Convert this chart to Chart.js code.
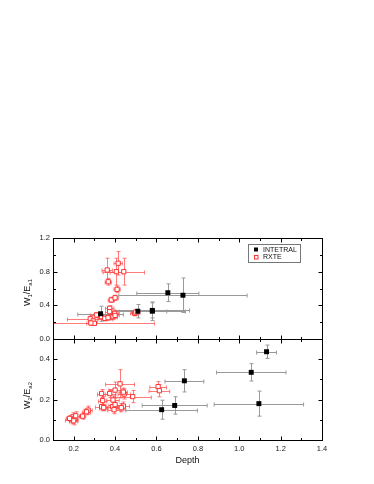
<!DOCTYPE html>
<html>
<head>
<meta charset="utf-8">
<script src="https://cdn.jsdelivr.net/npm/chart.js@4"></script>
<style>
html, body { margin: 0; padding: 0; background: #fff; }
#wrap { width: 374px; height: 484px; position: relative; }
</style>
</head>
<body>
<div id="wrap"><canvas id="chart" width="374" height="484"></canvas></div>
<script>
// axis ticks
const depthTicks = [0.2, 0.4, 0.6, 0.8, 1.0, 1.2, 1.4];
const depthMinor = [0.1, 0.3, 0.5, 0.7, 0.9, 1.1, 1.3];
const topTicks = [0.0, 0.4, 0.8, 1.2];
const topMinor = [0.2, 0.6, 1.0];
const botTicks = [0.0, 0.2, 0.4];
const botMinor = [0.1, 0.3, 0.5];

// INTEGRAL, upper panel (W1/Ea1)
const intTopDepth = [0.33, 0.51, 0.58, 0.58, 0.655, 0.728];
const intTopW     = [0.30, 0.33, 0.33, 0.34, 0.55, 0.52];
const intTopDErr  = [0.11, 0.14, 0.16, 0.18, 0.15, 0.31];
const intTopWErr  = [0.09, 0.08, 0.11, 0.09, 0.105, 0.205];

// RXTE, upper panel
const rxTopDepth = [0.415, 0.362, 0.406, 0.442, 0.367, 0.410, 0.382, 0.400, 0.374, 0.374, 0.334, 0.28,
                    0.294, 0.300, 0.350, 0.366, 0.390, 0.398, 0.495, 0.500, 0.310, 0.400, 0.283];
const rxTopW     = [0.90, 0.82, 0.80, 0.80, 0.68, 0.59, 0.465, 0.49, 0.365, 0.325, 0.265, 0.24,
                    0.214, 0.186, 0.245, 0.253, 0.265, 0.305, 0.305, 0.32, 0.285, 0.28, 0.19];
const rxTopDErr  = [0.02, 0.025, 0.03, 0.10, 0.015, 0.015, 0.015, 0.015, 0.02, 0.02, 0.02, 0.11,
                    0.02, 0.29, 0.03, 0.02, 0.02, 0.02, 0.02, 0.02, 0.03, 0.02, 0.02];
const rxTopWErr  = [0.14, 0.14, 0.16, 0.16, 0.04, 0.04, 0.03, 0.03, 0.03, 0.03, 0.03, 0.03,
                    0.03, 0.02, 0.03, 0.03, 0.03, 0.03, 0.03, 0.03, 0.03, 0.03, 0.03];

// INTEGRAL, lower panel (W2/Ea2)
const intBotDepth = [1.132, 1.058, 1.095, 0.735, 0.688, 0.625];
const intBotW     = [0.437, 0.335, 0.180, 0.293, 0.171, 0.150];
const intBotDErr  = [0.048, 0.168, 0.216, 0.094, 0.157, 0.173];
const intBotWErr  = [0.033, 0.043, 0.062, 0.055, 0.043, 0.047];

// RXTE, lower panel
const rxBotDepth = [0.424, 0.608, 0.614, 0.335, 0.374, 0.400, 0.444, 0.485, 0.440, 0.340, 0.390, 0.335, 0.345,
                    0.388, 0.400, 0.440, 0.430, 0.270, 0.262, 0.243, 0.197, 0.205, 0.190, 0.200, 0.180, 0.210, 0.395];
const rxBotW     = [0.278, 0.264, 0.244, 0.230, 0.230, 0.247, 0.228, 0.215, 0.237, 0.195, 0.198, 0.165, 0.160,
                    0.165, 0.175, 0.168, 0.160, 0.148, 0.140, 0.118, 0.115, 0.107, 0.100, 0.095, 0.107, 0.120, 0.150];
const rxBotDErr  = [0.07, 0.04, 0.05, 0.02, 0.03, 0.03, 0.03, 0.09, 0.02, 0.02, 0.03, 0.03, 0.02,
                    0.03, 0.03, 0.03, 0.02, 0.02, 0.02, 0.015, 0.015, 0.015, 0.03, 0.02, 0.015, 0.02, 0.03];
const rxBotWErr  = [0.07, 0.025, 0.03, 0.02, 0.02, 0.04, 0.025, 0.03, 0.02, 0.02, 0.02, 0.02, 0.015,
                    0.02, 0.02, 0.02, 0.02, 0.02, 0.015, 0.015, 0.02, 0.015, 0.02, 0.02, 0.015, 0.02, 0.02];

const FONT = '"Liberation Sans", Arial, sans-serif';
const RED = 'rgb(255, 50, 50)';
const RED_ERR = 'rgba(255, 80, 80, 0.75)';
const GRAY_ERR = '#999';

function points(xs, ys) {
    return xs.map((x, i) => ({ x: x, y: ys[i] }));
}

function intDataset(label, axis, xs, ys, xe, ye) {
    return {
        label: label, yAxisID: axis, data: points(xs, ys),
        xErr: xe, yErr: ye, errColor: GRAY_ERR,
        pointStyle: 'rect', pointRadius: 3.5, pointBorderWidth: 0,
        backgroundColor: '#000', borderColor: '#000'
    };
}

function rxDataset(label, axis, xs, ys, xe, ye) {
    return {
        label: label, yAxisID: axis, data: points(xs, ys),
        xErr: xe, yErr: ye, errColor: RED_ERR,
        pointStyle: 'rect', pointRadius: 3, pointBorderWidth: 1,
        backgroundColor: '#fff', borderColor: RED
    };
}

function setTicks(values) {
    return scale => { scale.ticks = values.map(v => ({ value: v })); };
}

const tickFont = { family: FONT, size: 7.5 };

function yScale(min, max, ticks) {
    return {
        type: 'linear', position: 'left', stack: 'panels', stackWeight: 1,
        min: min, max: max,
        grid: { display: false, drawTicks: false },
        border: { display: false },
        ticks: { font: tickFont, color: '#222', padding: 3, autoSkip: false, callback: v => v.toFixed(1) },
        afterBuildTicks: setTicks(ticks),
        afterFit: s => { s.width = 53; }
    };
}

// error bars, clipped to each panel
const errorBars = {
    id: 'errorBars',
    beforeDatasetsDraw(chart) {
        const ctx = chart.ctx;
        const xs = chart.scales.x;
        chart.data.datasets.forEach(ds => {
            const ys = chart.scales[ds.yAxisID];
            ctx.save();
            ctx.beginPath();
            ctx.rect(xs.left, ys.top, xs.right - xs.left, ys.bottom - ys.top);
            ctx.clip();
            ctx.strokeStyle = ds.errColor;
            ctx.lineWidth = 1;
            ds.data.forEach((p, i) => {
                const px = Math.round(xs.getPixelForValue(p.x)) + 0.5;
                const py = Math.round(ys.getPixelForValue(p.y)) + 0.5;
                const x0 = xs.getPixelForValue(p.x - ds.xErr[i]);
                const x1 = xs.getPixelForValue(p.x + ds.xErr[i]);
                const y0 = ys.getPixelForValue(p.y - ds.yErr[i]);
                const y1 = ys.getPixelForValue(p.y + ds.yErr[i]);
                ctx.beginPath();
                ctx.moveTo(x0, py); ctx.lineTo(x1, py);
                ctx.moveTo(x0, py - 2); ctx.lineTo(x0, py + 2);
                ctx.moveTo(x1, py - 2); ctx.lineTo(x1, py + 2);
                ctx.moveTo(px, y0); ctx.lineTo(px, y1);
                ctx.moveTo(px - 2, y0); ctx.lineTo(px + 2, y0);
                ctx.moveTo(px - 2, y1); ctx.lineTo(px + 2, y1);
                ctx.stroke();
            });
            ctx.restore();
        });
    }
};

function drawSubLabel(ctx, parts, cx, cy) {
    // parts: [text, isSub]
    const big = '9px ' + FONT, small = '6px ' + FONT;
    let w = 0;
    parts.forEach(([t, sub]) => { ctx.font = sub ? small : big; w += ctx.measureText(t).width; });
    ctx.save();
    ctx.translate(cx, cy);
    ctx.rotate(-Math.PI / 2);
    ctx.fillStyle = '#111';
    ctx.textBaseline = 'alphabetic';
    let x = -w / 2;
    parts.forEach(([t, sub]) => {
        ctx.font = sub ? small : big;
        ctx.fillText(t, x, sub ? 5 : 3);
        x += ctx.measureText(t).width;
    });
    ctx.restore();
}

// panel frames, inward ticks, axis titles and legend
const frame = {
    id: 'frame',
    afterDraw(chart) {
        const ctx = chart.ctx;
        const { x, yT, yB } = chart.scales;
        ctx.save();
        ctx.strokeStyle = '#000';
        ctx.lineWidth = 1;
        [[yT, topTicks, topMinor], [yB, botTicks, botMinor]].forEach(([ys, maj, min]) => {
            const l = Math.round(x.left) + 0.5, r = Math.round(x.right) + 0.5;
            const t = Math.round(ys.top) + 0.5, b = Math.round(ys.bottom) + 0.5;
            ctx.strokeRect(l, t, r - l, b - t);
            ctx.beginPath();
            const xt = (v, len) => {
                const px = Math.round(x.getPixelForValue(v)) + 0.5;
                ctx.moveTo(px, b); ctx.lineTo(px, b - len);
                ctx.moveTo(px, t); ctx.lineTo(px, t + len);
            };
            const yt = (v, len) => {
                const py = Math.round(ys.getPixelForValue(v)) + 0.5;
                ctx.moveTo(l, py); ctx.lineTo(l + len, py);
                ctx.moveTo(r, py); ctx.lineTo(r - len, py);
            };
            depthTicks.forEach(v => xt(v, 4));
            depthMinor.forEach(v => xt(v, 2.5));
            maj.forEach(v => yt(v, 4));
            min.forEach(v => yt(v, 2.5));
            ctx.stroke();
        });

        // titles
        ctx.fillStyle = '#111';
        ctx.font = '9px ' + FONT;
        ctx.textAlign = 'center';
        ctx.textBaseline = 'middle';
        ctx.fillText('Depth', (x.left + x.right) / 2, 461);
        ctx.textAlign = 'left';
        drawSubLabel(ctx, [['W', false], ['1', true], ['/E', false], ['a1', true]], 27, (yT.top + yT.bottom) / 2 + 4);
        drawSubLabel(ctx, [['W', false], ['2', true], ['/E', false], ['a2', true]], 27, (yB.top + yB.bottom) / 2 + 6);

        // legend box
        const lx = 248, ly = 244, lw = 52, lh = 18;
        ctx.strokeStyle = '#777';
        ctx.strokeRect(lx + 0.5, ly + 0.5, lw, lh);
        ctx.fillStyle = '#000';
        ctx.fillRect(254, 247.5, 4, 4);
        ctx.strokeStyle = RED;
        ctx.strokeRect(254.5, 255.5, 3.5, 3.5);
        ctx.fillStyle = '#111';
        ctx.font = '7px ' + FONT;
        ctx.textBaseline = 'middle';
        ctx.fillText(chart.data.datasets[0].label, 263, 250);
        ctx.fillText(chart.data.datasets[1].label, 263, 257.5);
        ctx.restore();
    }
};

new Chart(document.getElementById('chart'), {
    type: 'scatter',
    data: {
        datasets: [
            intDataset('INTETRAL', 'yT', intTopDepth, intTopW, intTopDErr, intTopWErr),
            rxDataset('RXTE', 'yT', rxTopDepth, rxTopW, rxTopDErr, rxTopWErr),
            intDataset('INTETRAL', 'yB', intBotDepth, intBotW, intBotDErr, intBotWErr),
            rxDataset('RXTE', 'yB', rxBotDepth, rxBotW, rxBotDErr, rxBotWErr)
        ]
    },
    options: {
        responsive: false,
        animation: false,
        devicePixelRatio: 1,
        layout: { padding: { top: 238, right: 52, left: 0, bottom: 0 } },
        plugins: { legend: { display: false }, tooltip: { enabled: false } },
        scales: {
            x: {
                type: 'linear', position: 'bottom', min: 0.1, max: 1.4,
                grid: { display: false, drawTicks: false },
                border: { display: false },
                ticks: { font: tickFont, color: '#222', padding: 4, maxRotation: 0, autoSkip: false, callback: v => v.toFixed(1) },
                afterBuildTicks: setTicks(depthTicks),
                afterFit: s => { s.height = 44; }
            },
            yB: yScale(0, 0.5, botTicks),
            yT: yScale(0, 1.2, topTicks)
        }
    },
    plugins: [errorBars, frame]
});
</script>
</body>
</html>
